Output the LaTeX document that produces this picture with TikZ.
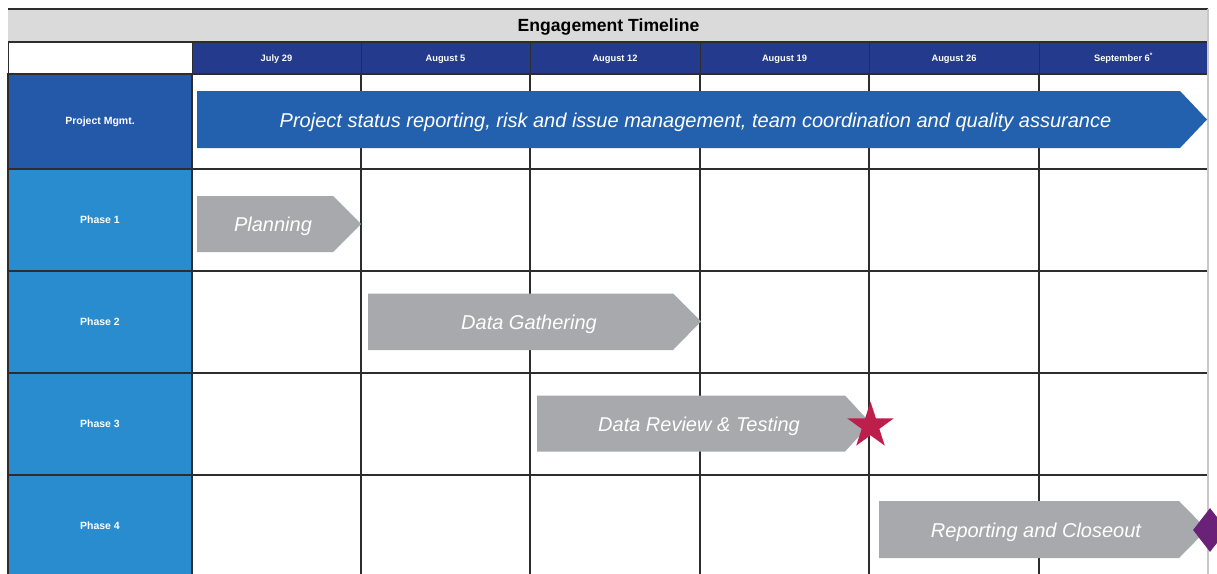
\documentclass[tikz,border=0pt]{standalone}
\usepackage{fontspec}
\setmainfont{Liberation Sans}
\usetikzlibrary{shapes.geometric}
\definecolor{titlegrey}{RGB}{218,218,218}
\definecolor{navy}{RGB}{36,58,140}
\definecolor{pmblue}{RGB}{36,88,168}
\definecolor{phblue}{RGB}{40,140,206}
\definecolor{pmarrow}{RGB}{35,97,174}
\definecolor{barg}{RGB}{167,169,172}
\definecolor{starred}{RGB}{190,30,75}
\definecolor{diapurple}{RGB}{106,33,120}
\definecolor{gridc}{RGB}{45,45,45}
\definecolor{edgec}{RGB}{200,200,200}
\begin{document}
\begin{tikzpicture}[x=1pt,y=-1pt,
  hdr/.style={fill=navy,draw=gridc,line width=1pt,text=white,inner sep=0pt,minimum height=32pt},
  hdrtext/.style={text=white,inner sep=0pt,anchor=base,font=\bfseries\fontsize{9.3}{10}\selectfont},
  lbl/.style={draw=gridc,line width=1.2pt,text=white,inner sep=0pt,minimum width=184pt,
    font=\bfseries\fontsize{10.5}{12}\selectfont},
  gridline/.style={draw=gridc,line width=1.4pt},
  bartext/.style={text=white,inner sep=0pt,anchor=base,font=\itshape\fontsize{20}{24}\selectfont}]
\useasboundingbox (0,0) rectangle (1217,573);
\clip (0,0) rectangle (1217,573);
\fill[white] (0,0) rectangle (1217,573);

% title bar
\node[fill=titlegrey,inner sep=0pt,minimum width=1200pt,minimum height=33pt,anchor=north west] (title) at (8,9) {};
\node[font=\bfseries\fontsize{17.6}{20}\selectfont,anchor=base] (titletext) at (608.5,31.5) {Engagement Timeline};
\draw[draw=gridc,line width=2pt] (title.north west) -- (title.north east);
\draw[draw=gridc,line width=2pt] (title.south west) -- (title.south east);

% header row
\node[draw=gridc,line width=1pt,fill=white,inner sep=0pt,minimum width=184pt,minimum height=32pt] (corner) at (100,58) {};
\foreach \cx/\w/\lab [count=\i] in {276.5/169/July 29, 445.5/169/August 5, 615/170/August 12,
  784.5/169/August 19, 954/170/August 26, 1123.5/169/September 6\textsuperscript{*}}
{
  \node[hdr,minimum width=\w pt] (h\i) at (\cx,58) {};
  \node[hdrtext] (ht\i) at (\cx,61) {\lab};
}

% left labels
\node[lbl,fill=pmblue,minimum height=95pt] (pm) at (100,121.5) {Project Mgmt.};
\node[lbl,fill=phblue,minimum height=102pt] (ph1) at (100,220) {Phase 1};
\node[lbl,fill=phblue,minimum height=102pt] (ph2) at (100,322) {Phase 2};
\node[lbl,fill=phblue,minimum height=102pt] (ph3) at (100,424) {Phase 3};
\node[lbl,fill=phblue,minimum height=102pt] (ph4) at (100,526) {Phase 4};

% grid
\foreach \x in {192,361,530,700,869,1039}
  \draw[gridline] (\x,74) -- (\x,580);
\foreach \y in {74,169,271,373,475}
  \draw[gridline] (8,\y) -- (1208,\y);
\draw[draw=edgec,line width=2pt] (1208,9) -- (1208,580);

% bars
\fill[pmarrow] (197,91) -- (1180,91) -- (1207,119.5) -- (1180,148) -- (197,148) -- cycle;
\node[bartext] (pmtext) at (695.5,127.3) {Project status reporting, risk and issue management, team coordination and quality assurance};

\fill[barg] (197,196) -- (333,196) -- (361,224) -- (333,252) -- (197,252) -- cycle;
\node[bartext] (plan) at (273,231.7) {Planning};

\fill[barg] (368,293.5) -- (673,293.5) -- (701,321.5) -- (673,350) -- (368,350) -- cycle;
\node[bartext] (gather) at (529,329.5) {Data Gathering};

\fill[barg] (537,395.5) -- (845,395.5) -- (871,423.5) -- (845,451.5) -- (537,451.5) -- cycle;
\node[bartext] (review) at (699,431.3) {Data Review \& Testing};

\fill[barg] (879,501) -- (1179,501) -- (1207,529.5) -- (1179,558) -- (879,558) -- cycle;
\node[bartext] (report) at (1036,537.3) {Reporting and Closeout};

% milestones
\node[star,star points=5,star point ratio=2.618,fill=starred,inner sep=0pt,minimum size=48.6pt] (star) at (870.5,426) {};
\node[diamond,fill=diapurple,inner sep=0pt,minimum width=34pt,minimum height=44pt] (dia) at (1210,530) {};
\end{tikzpicture}
\end{document}
